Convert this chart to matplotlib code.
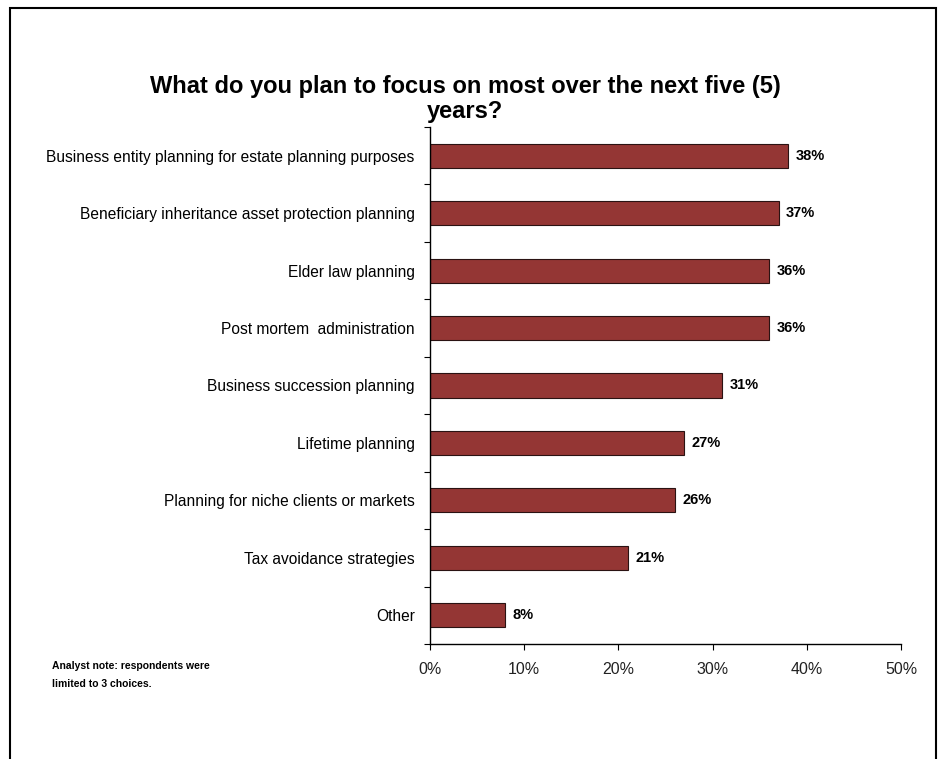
import numpy as np
import matplotlib.pyplot as plt
from matplotlib.patches import Rectangle
from matplotlib.ticker import FixedLocator

categories = [
    'Business entity planning for estate planning purposes',
    'Beneficiary inheritance asset protection planning',
    'Elder law planning',
    'Post mortem  administration',
    'Business succession planning',
    'Lifetime planning',
    'Planning for niche clients or markets',
    'Tax avoidance strategies',
    'Other',
]
values = [38, 37, 36, 36, 31, 27, 26, 21, 8]
xticks = [0, 10, 20, 30, 40, 50]

plt.rcParams['font.family'] = ['Liberation Sans', 'DejaVu Sans']

fig = plt.figure(figsize=(9.46, 7.59), dpi=100)
ax = fig.add_axes([430/946, 115/759, 471/946, 517/759])

pos = np.arange(len(categories))
ax.barh(pos, values, height=0.42, color='#943634', edgecolor='#2a1212', linewidth=0.8)
for p, v in zip(pos, values):
    ax.text(v + 0.8, p, f'{v}%', va='center', ha='left', fontsize=10.5, fontweight='bold')

ax.set_ylim(len(categories) - 0.5, -0.5)
ax.set_xlim(0, 50)
ax.set_yticks(pos)
ax.set_yticklabels(categories, fontsize=11.2)
ax.yaxis.set_minor_locator(FixedLocator(np.arange(-0.5, len(categories), 1)))
ax.tick_params(axis='y', which='major', length=0, pad=11)
ax.tick_params(axis='y', which='minor', length=4, width=0.8, direction='out')
ax.set_xticks(xticks)
ax.set_xticklabels([f'{t}%' for t in xticks], fontsize=11.5, color='#222222')
ax.tick_params(axis='x', length=4, width=0.8, direction='out', pad=9)

for s in ['top', 'right']:
    ax.spines[s].set_visible(False)
ax.spines['left'].set_linewidth(1.0)
ax.spines['bottom'].set_linewidth(1.0)

fig.text(465/946, 1 - 99/759, 'What do you plan to focus on most over the next five (5)\nyears?',
         ha='center', va='center', fontsize=17, fontweight='bold', linespacing=1.15)

fig.text(52/946, 1 - 675/759, 'Analyst note: respondents were\nlimited to 3 choices.',
         ha='left', va='center', fontsize=7.5, fontweight='bold', linespacing=1.9)

# outer frame, open at the bottom edge
fig.add_artist(Rectangle((10/946, -0.05), 926/946, 1.05 - 8/759, transform=fig.transFigure,
                         fill=False, edgecolor='black', linewidth=1.5))

fig.savefig('out.png', dpi=100)
